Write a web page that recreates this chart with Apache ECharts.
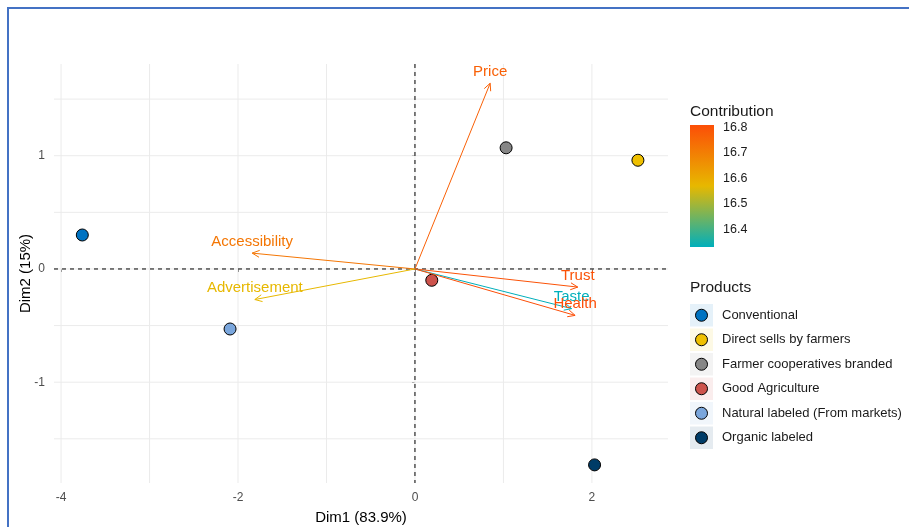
<!DOCTYPE html>
<html>
<head>
<meta charset="utf-8">
<script src="https://cdn.jsdelivr.net/npm/echarts@6/dist/echarts.min.js"></script>
<style>
  html, body { margin: 0; padding: 0; background: #fff; }
  #chart { width: 909px; height: 527px; }
</style>
</head>
<body>
<div id="chart"></div>
<script>
// individuals (products)
const products = ['Conventional', 'Direct sells by farmers', 'Farmer cooperatives branded',
  'Good Agriculture', 'Natural labeled (From markets)', 'Organic labeled'];
const productColors = ['#0073C2', '#EFC000', '#868686', '#CD534C', '#7AA6DC', '#003C67'];
const dim1 = [-3.76, 2.52, 1.03, 0.19, -2.09, 2.03];
const dim2 = [0.30, 0.96, 1.07, -0.10, -0.53, -1.73];

// variables (arrows)
const variables = ['Price', 'Accessibility', 'Advertisement', 'Trust', 'Taste', 'Health'];
const varDim1 = [0.85, -1.84, -1.81, 1.84, 1.77, 1.81];
const varDim2 = [1.64, 0.14, -0.27, -0.16, -0.35, -0.41];
const contrib = [16.77, 16.72, 16.57, 16.80, 16.33, 16.81];

// axes / legend ticks
const xTicks = [-4, -2, 0, 2];
const yTicks = [-1, 0, 1];
const xGridLines = [-4, -3, -2, -1, 0, 1, 2];
const yGridLines = [-1.5, -1, -0.5, 0, 0.5, 1, 1.5];
const contribTicks = [16.4, 16.5, 16.6, 16.7, 16.8];
const contribMin = 16.33, contribMax = 16.81;
const gradientCols = ['#00AFBB', '#E7B800', '#FC4E07'];

const FONT = "'Liberation Sans', Arial, sans-serif";
const chart = echarts.init(document.getElementById('chart'));

function hexAlpha(hex, a) {
  const n = parseInt(hex.slice(1), 16);
  return 'rgba(' + (n >> 16) + ',' + ((n >> 8) & 255) + ',' + (n & 255) + ',' + a + ')';
}

const hiddenValAxis = (gi) => ({
  type: 'value', gridIndex: gi, min: 0, max: 1, show: false
});

// reference lines across the whole panel: item = [axis (0 = x, 1 = y), value]
function refLines(style) {
  return function (params, api) {
    const cs = params.coordSys;
    const axis = api.value(0), v = api.value(1);
    let shape;
    if (axis === 0) {
      const px = api.coord([v, 0])[0];
      shape = { x1: px, y1: cs.y, x2: px, y2: cs.y + cs.height };
    } else {
      const py = api.coord([0, v])[1];
      shape = { x1: cs.x, y1: py, x2: cs.x + cs.width, y2: py };
    }
    return { type: 'line', shape: shape, style: style };
  };
}

const option = {
  animation: false,
  textStyle: { fontFamily: FONT },
  title: [
    { text: 'Contribution', left: 690, top: 104, padding: 0,
      textStyle: { fontSize: 15.5, fontWeight: 'normal', color: '#1a1a1a', fontFamily: FONT } },
    { text: 'Products', left: 690, top: 280, padding: 0,
      textStyle: { fontSize: 15.5, fontWeight: 'normal', color: '#1a1a1a', fontFamily: FONT } }
  ],
  graphic: [{
    type: 'rect', silent: true,
    shape: { x: 8, y: 8, width: 1000, height: 1000 },
    style: { fill: 'none', stroke: '#4472C4', lineWidth: 2 }
  }],
  grid: [
    { left: 54, right: 241, top: 64, bottom: 44, outerBoundsMode: 'none' },
    { left: 690, top: 125, width: 24, height: 122, outerBoundsMode: 'none' },
    { left: 690, top: 303, width: 23, height: 147, outerBoundsMode: 'none' }
  ],
  xAxis: [
    {
      type: 'value', min: -4.08, max: 2.86,
      name: 'Dim1 (83.9%)', nameLocation: 'middle', nameGap: 27, nameMoveOverlap: false,
      nameTextStyle: { fontSize: 15, color: '#000', fontFamily: FONT },
      axisLine: { show: false },
      axisTick: { show: true, length: 3, customValues: xTicks, lineStyle: { color: '#333' } },
      axisLabel: { customValues: xTicks, margin: 9, fontSize: 12, color: '#4D4D4D', fontFamily: FONT },
      splitLine: { show: false }
    },
    hiddenValAxis(1),
    hiddenValAxis(2)
  ],
  yAxis: [
    {
      type: 'value', min: -1.89, max: 1.81,
      name: 'Dim2 (15%)', nameLocation: 'middle', nameGap: 21, nameMoveOverlap: false,
      nameTextStyle: { fontSize: 15, color: '#000', fontFamily: FONT },
      axisLine: { show: false },
      axisTick: { show: true, length: 3, customValues: yTicks, lineStyle: { color: '#333' } },
      axisLabel: { customValues: yTicks, margin: 9, fontSize: 12, color: '#4D4D4D', fontFamily: FONT },
      splitLine: { show: false }
    },
    {
      type: 'value', gridIndex: 1, min: contribMin, max: contribMax, position: 'right',
      axisLine: { show: false },
      axisTick: { show: true, inside: true, length: 4, customValues: contribTicks,
        lineStyle: { color: '#fff', width: 1 } },
      axisLabel: { customValues: contribTicks, margin: 9, fontSize: 12.5, color: '#1a1a1a',
        fontFamily: FONT, formatter: v => v.toFixed(1) },
      splitLine: { show: false }
    },
    {
      type: 'category', gridIndex: 2, data: products, inverse: true, position: 'right',
      axisLine: { show: false }, axisTick: { show: false },
      axisLabel: { margin: 9, fontSize: 13, color: '#1a1a1a', fontFamily: FONT },
      splitLine: { show: false }
    },
    {
      type: 'value', gridIndex: 1, min: contribMin, max: contribMax, position: 'left',
      axisLine: { show: false },
      axisTick: { show: true, inside: true, length: 4, customValues: contribTicks,
        lineStyle: { color: '#fff', width: 1 } },
      axisLabel: { show: false }, splitLine: { show: false }
    }
  ],
  visualMap: [{
    type: 'continuous', show: false, seriesIndex: 3, dimension: 2,
    min: contribMin, max: contribMax, inRange: { color: gradientCols }
  }],
  series: [
    // panel gridlines
    {
      type: 'custom', silent: true, z: 1,
      data: xGridLines.map(v => [0, v]).concat(yGridLines.map(v => [1, v])),
      renderItem: refLines({ stroke: '#EBEBEB', lineWidth: 1 })
    },
    // zero reference lines
    {
      type: 'custom', silent: true, z: 2,
      data: [[0, 0], [1, 0]],
      renderItem: refLines({ stroke: '#000', lineWidth: 1, lineDash: [4, 4] })
    },
    // individuals
    {
      type: 'scatter', z: 3, symbol: 'circle', symbolSize: 12,
      data: dim1.map((x, i) => [x, dim2[i]]),
      itemStyle: {
        color: p => productColors[p.dataIndex], borderColor: '#000', borderWidth: 1, opacity: 1
      }
    },
    // variable arrows
    {
      type: 'custom', z: 4,
      data: variables.map((v, i) => [varDim1[i], varDim2[i], contrib[i]]),
      encode: { x: 0, y: 1 },
      renderItem: function (params, api) {
        const o = api.coord([0, 0]);
        const t = api.coord([api.value(0), api.value(1)]);
        const color = api.visual('color');
        const ang = Math.atan2(t[1] - o[1], t[0] - o[0]);
        const L = 8, a = Math.PI / 7;
        const h1 = [t[0] - L * Math.cos(ang - a), t[1] - L * Math.sin(ang - a)];
        const h2 = [t[0] - L * Math.cos(ang + a), t[1] - L * Math.sin(ang + a)];
        return {
          type: 'group',
          children: [
            { type: 'line', shape: { x1: o[0], y1: o[1], x2: t[0], y2: t[1] },
              style: { stroke: color, lineWidth: 1 } },
            { type: 'polyline', shape: { points: [h1, t, h2] },
              style: { stroke: color, fill: null, lineWidth: 1 } },
            { type: 'text', x: t[0], y: t[1] - 4,
              style: { text: variables[params.dataIndex], fill: color, font: '15px ' + FONT,
                align: 'center', verticalAlign: 'bottom' } }
          ]
        };
      }
    },
    // colour bar
    {
      type: 'custom', xAxisIndex: 1, yAxisIndex: 1, silent: true, z: 1,
      data: [[contribMin, contribMax]],
      renderItem: function (params, api) {
        const p0 = api.coord([0, api.value(0)]);
        const p1 = api.coord([1, api.value(1)]);
        return {
          type: 'rect',
          shape: { x: p0[0], y: p1[1], width: p1[0] - p0[0], height: p0[1] - p1[1] },
          style: {
            fill: new echarts.graphic.LinearGradient(0, 1, 0, 0, gradientCols.map((c, i) => ({
              offset: i / (gradientCols.length - 1), color: c
            })))
          }
        };
      }
    },
    // products legend keys
    {
      type: 'custom', xAxisIndex: 2, yAxisIndex: 2, silent: true, z: 1,
      data: products.map((p, i) => [0.5, i]),
      renderItem: function (params, api) {
        const c = api.coord([api.value(0), api.value(1)]);
        const band = api.size([0, 1])[1];
        const left = api.coord([0, 0])[0], right = api.coord([1, 0])[0];
        const col = productColors[params.dataIndex];
        return {
          type: 'group',
          children: [
            { type: 'rect', shape: { x: left, y: c[1] - band / 2 + 1, width: right - left, height: band - 2 },
              style: { fill: hexAlpha(col, 0.1) } },
            { type: 'circle', shape: { cx: c[0], cy: c[1], r: 6 },
              style: { fill: col, stroke: '#000', lineWidth: 1 } }
          ]
        };
      }
    }
  ]
};

chart.setOption(option);
</script>
</body>
</html>
